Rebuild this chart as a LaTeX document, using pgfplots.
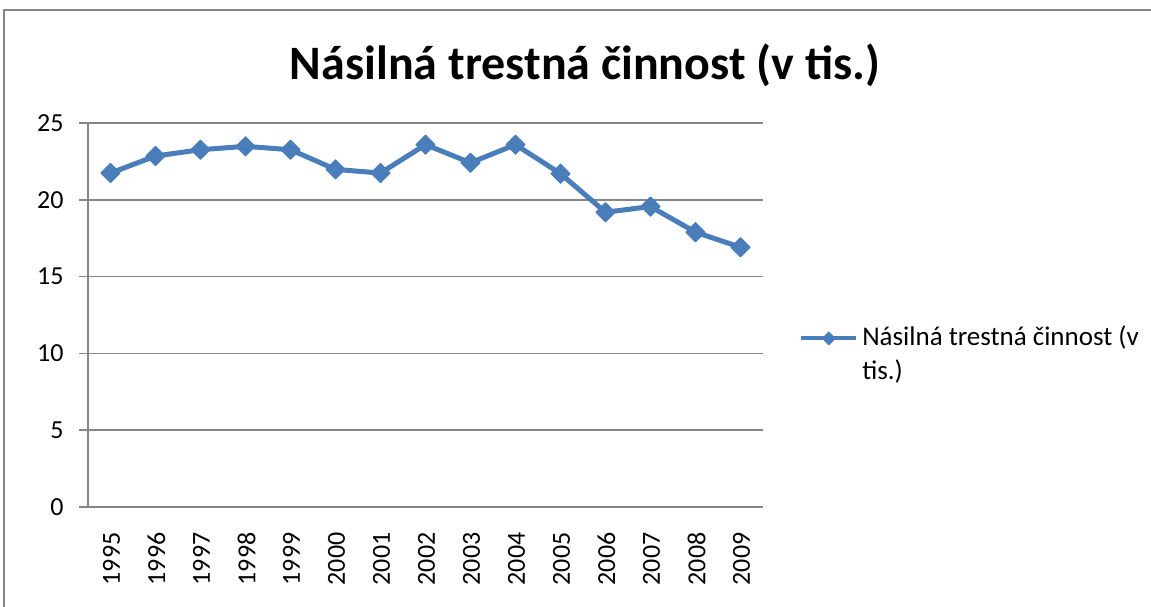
\documentclass[border=0pt]{standalone}
\usepackage{fontspec}
\setmainfont{Carlito}
\usepackage{pgfplots}
\pgfplotsset{compat=1.18}
\definecolor{ser}{HTML}{4A7EBB}
\definecolor{gridc}{HTML}{868686}
\begin{document}
\begin{tikzpicture}
\path[use as bounding box] (0pt,0pt) rectangle (1151pt,607pt);
\draw[gridc, line width=2pt] (4pt,0pt) -- (4pt,597pt) -- (1151pt,597pt);
\node[font=\fontsize{48}{56}\selectfont\bfseries, anchor=base] at (585pt,527pt) {Násilná trestná činnost (v tis.)};
\begin{axis}[
  at={(88pt,100pt)}, anchor=south west,
  width=675pt, height=384pt, scale only axis,
  xmin=-0.5, xmax=14.5, ymin=0, ymax=25,
  axis x line*=bottom, axis y line*=left,
  axis line style={gridc, line width=1.5pt, -},
  ytick={0,5,...,25},
  ymajorgrids, grid style={gridc, line width=1.5pt},
  xtick={0,...,14},
  xticklabels={1995,1996,1997,1998,1999,2000,2001,2002,2003,2004,2005,2006,2007,2008,2009},
  x tick style={draw=none},
  extra x ticks={-0.5,0.5,...,14.5},
  extra x tick labels={},
  extra x tick style={grid=none, tick align=outside, major tick length=8pt, tick style={draw=gridc, line width=1.5pt}},
  y tick style={draw=gridc, line width=1.5pt},
  tick align=outside, major tick length=9pt,
  ticklabel style={font=\fontsize{26}{30}\selectfont},
  /pgf/number format/assume math mode=true,
  x tick label style={rotate=90, anchor=east, xshift=-13pt, yshift=-1pt},
  y tick label style={anchor=east, xshift=-12pt},
  legend style={draw=none, fill=none, at={(1.049,0.40)}, anchor=west,
    font=\fontsize{27}{34}\selectfont, nodes={align=left, inner sep=2pt}, column sep=2pt},
  legend cell align=left,
  legend image code/.code={\draw[#1, line width=4pt, mark size=4.5pt, mark repeat=2, mark phase=2, yshift=15pt] plot coordinates {(0pt,0pt) (27.5pt,0pt) (55pt,0pt)};},
]
\addplot[color=ser, line width=5pt, line join=round, mark=square*, mark size=6.8pt, mark options={solid, rotate=45, line width=1pt, fill=ser}]
coordinates {
(0,21.74) (1,22.85) (2,23.26) (3,23.48) (4,23.26) (5,21.98) (6,21.74) (7,23.59)
(8,22.41) (9,23.59) (10,21.70) (11,19.19) (12,19.56) (13,17.89) (14,16.91)
};
\addlegendentry{Násilná trestná činnost (v\\tis.)}
\end{axis}
\end{tikzpicture}
\end{document}
